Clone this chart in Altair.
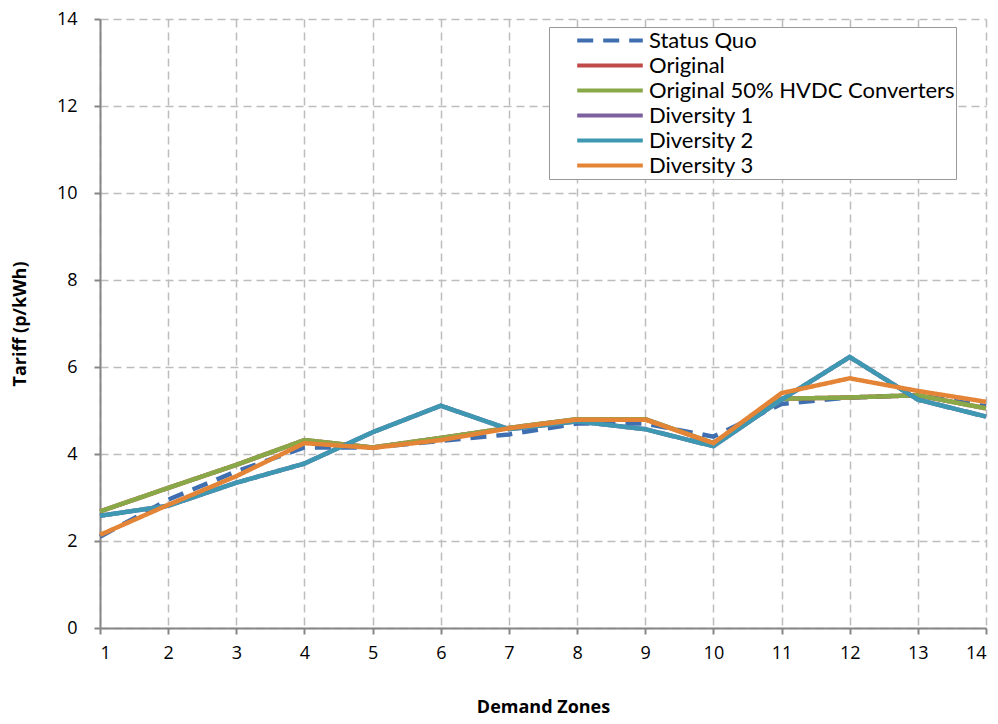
import altair as alt
import pandas as pd

zones = list(range(1, 15))
series_names = ["Status Quo", "Original", "Original 50% HVDC Converters",
                "Diversity 1", "Diversity 2", "Diversity 3"]
status_quo = [2.10, 2.95, 3.60, 4.15, 4.15, 4.30, 4.45, 4.70, 4.70, 4.40, 5.15, 5.30, 5.35, 5.10]
original = [2.68, 3.22, 3.75, 4.32, 4.15, 4.37, 4.60, 4.80, 4.80, 4.25, 5.27, 5.30, 5.35, 5.05]
original_hvdc = [2.68, 3.22, 3.75, 4.32, 4.15, 4.37, 4.60, 4.80, 4.80, 4.25, 5.27, 5.30, 5.35, 5.05]
diversity1 = [2.58, 2.81, 3.34, 3.78, 4.50, 5.11, 4.57, 4.75, 4.57, 4.18, 5.25, 6.23, 5.25, 4.86]
diversity2 = [2.58, 2.81, 3.34, 3.78, 4.50, 5.11, 4.57, 4.75, 4.57, 4.18, 5.25, 6.23, 5.25, 4.86]
diversity3 = [2.14, 2.83, 3.49, 4.25, 4.14, 4.32, 4.59, 4.79, 4.79, 4.25, 5.40, 5.74, 5.45, 5.20]
colors = ["#3F6FB0", "#BE4B48", "#89A848", "#7D60A0", "#3F98B2", "#E38436"]
dashes = [[16, 10], [1, 0], [1, 0], [1, 0], [1, 0], [1, 0]]

all_vals = [status_quo, original, original_hvdc, diversity1, diversity2, diversity3]
rows = []
for i, (name, vals) in enumerate(zip(series_names, all_vals)):
    for z, v in zip(zones, vals):
        rows.append({"Zone": z, "Tariff": v, "Series": name, "order": i})
df = pd.DataFrame(rows)

font = "Open Sans"

legend_kw = dict(title=None, orient="none", legendX=449, legendY=8,
                 symbolType="stroke", symbolSize=4300, symbolStrokeWidth=4,
                 labelFont="Lato", labelFontSize=22, labelColor="#000000",
                 rowPadding=0, clipHeight=25, strokeColor="#999999", fillColor="#ffffff",
                 padding=1, labelOffset=4, labelLimit=400, symbolOffset=25)

chart = alt.Chart(df).mark_line(strokeWidth=4.5, strokeCap="butt", strokeJoin="miter").encode(
    x=alt.X("Zone:Q", scale=alt.Scale(domain=[1, 14], nice=False, zero=False),
            axis=alt.Axis(values=zones, title="Demand Zones", format="d")),
    y=alt.Y("Tariff:Q", scale=alt.Scale(domain=[0, 14], nice=False),
            axis=alt.Axis(values=list(range(0, 15, 2)), title="Tariff (p/kWh)")),
    color=alt.Color("Series:N", scale=alt.Scale(domain=series_names, range=colors),
                    legend=alt.Legend(**legend_kw)),
    strokeDash=alt.StrokeDash("Series:N", scale=alt.Scale(domain=series_names, range=dashes),
                              legend=alt.Legend(**legend_kw)),
    order=alt.Order("order:Q"),
).properties(
    width=886, height=609,
    autosize=alt.AutoSizeParams(type="none"),
    padding={"left": 92, "top": 11, "right": 4, "bottom": 96},
).configure_view(stroke=None).configure_axis(
    labelFont=font, labelFontSize=18, labelColor="#000000",
    titleFont=font, titleFontSize=18, titleFontWeight="bold", titleColor="#000000",
    domainColor="#868686", domainWidth=2, tickColor="#868686", tickWidth=2, tickSize=6,
    gridColor="#BDBDBD", gridDash=[8, 5], gridWidth=1.5, grid=True,
).configure_axisX(labelPadding=10, titlePadding=36).configure_axisY(labelPadding=17, titlePadding=27)

chart.save("out.html", embed_options={"renderer": "svg", "actions": False})
